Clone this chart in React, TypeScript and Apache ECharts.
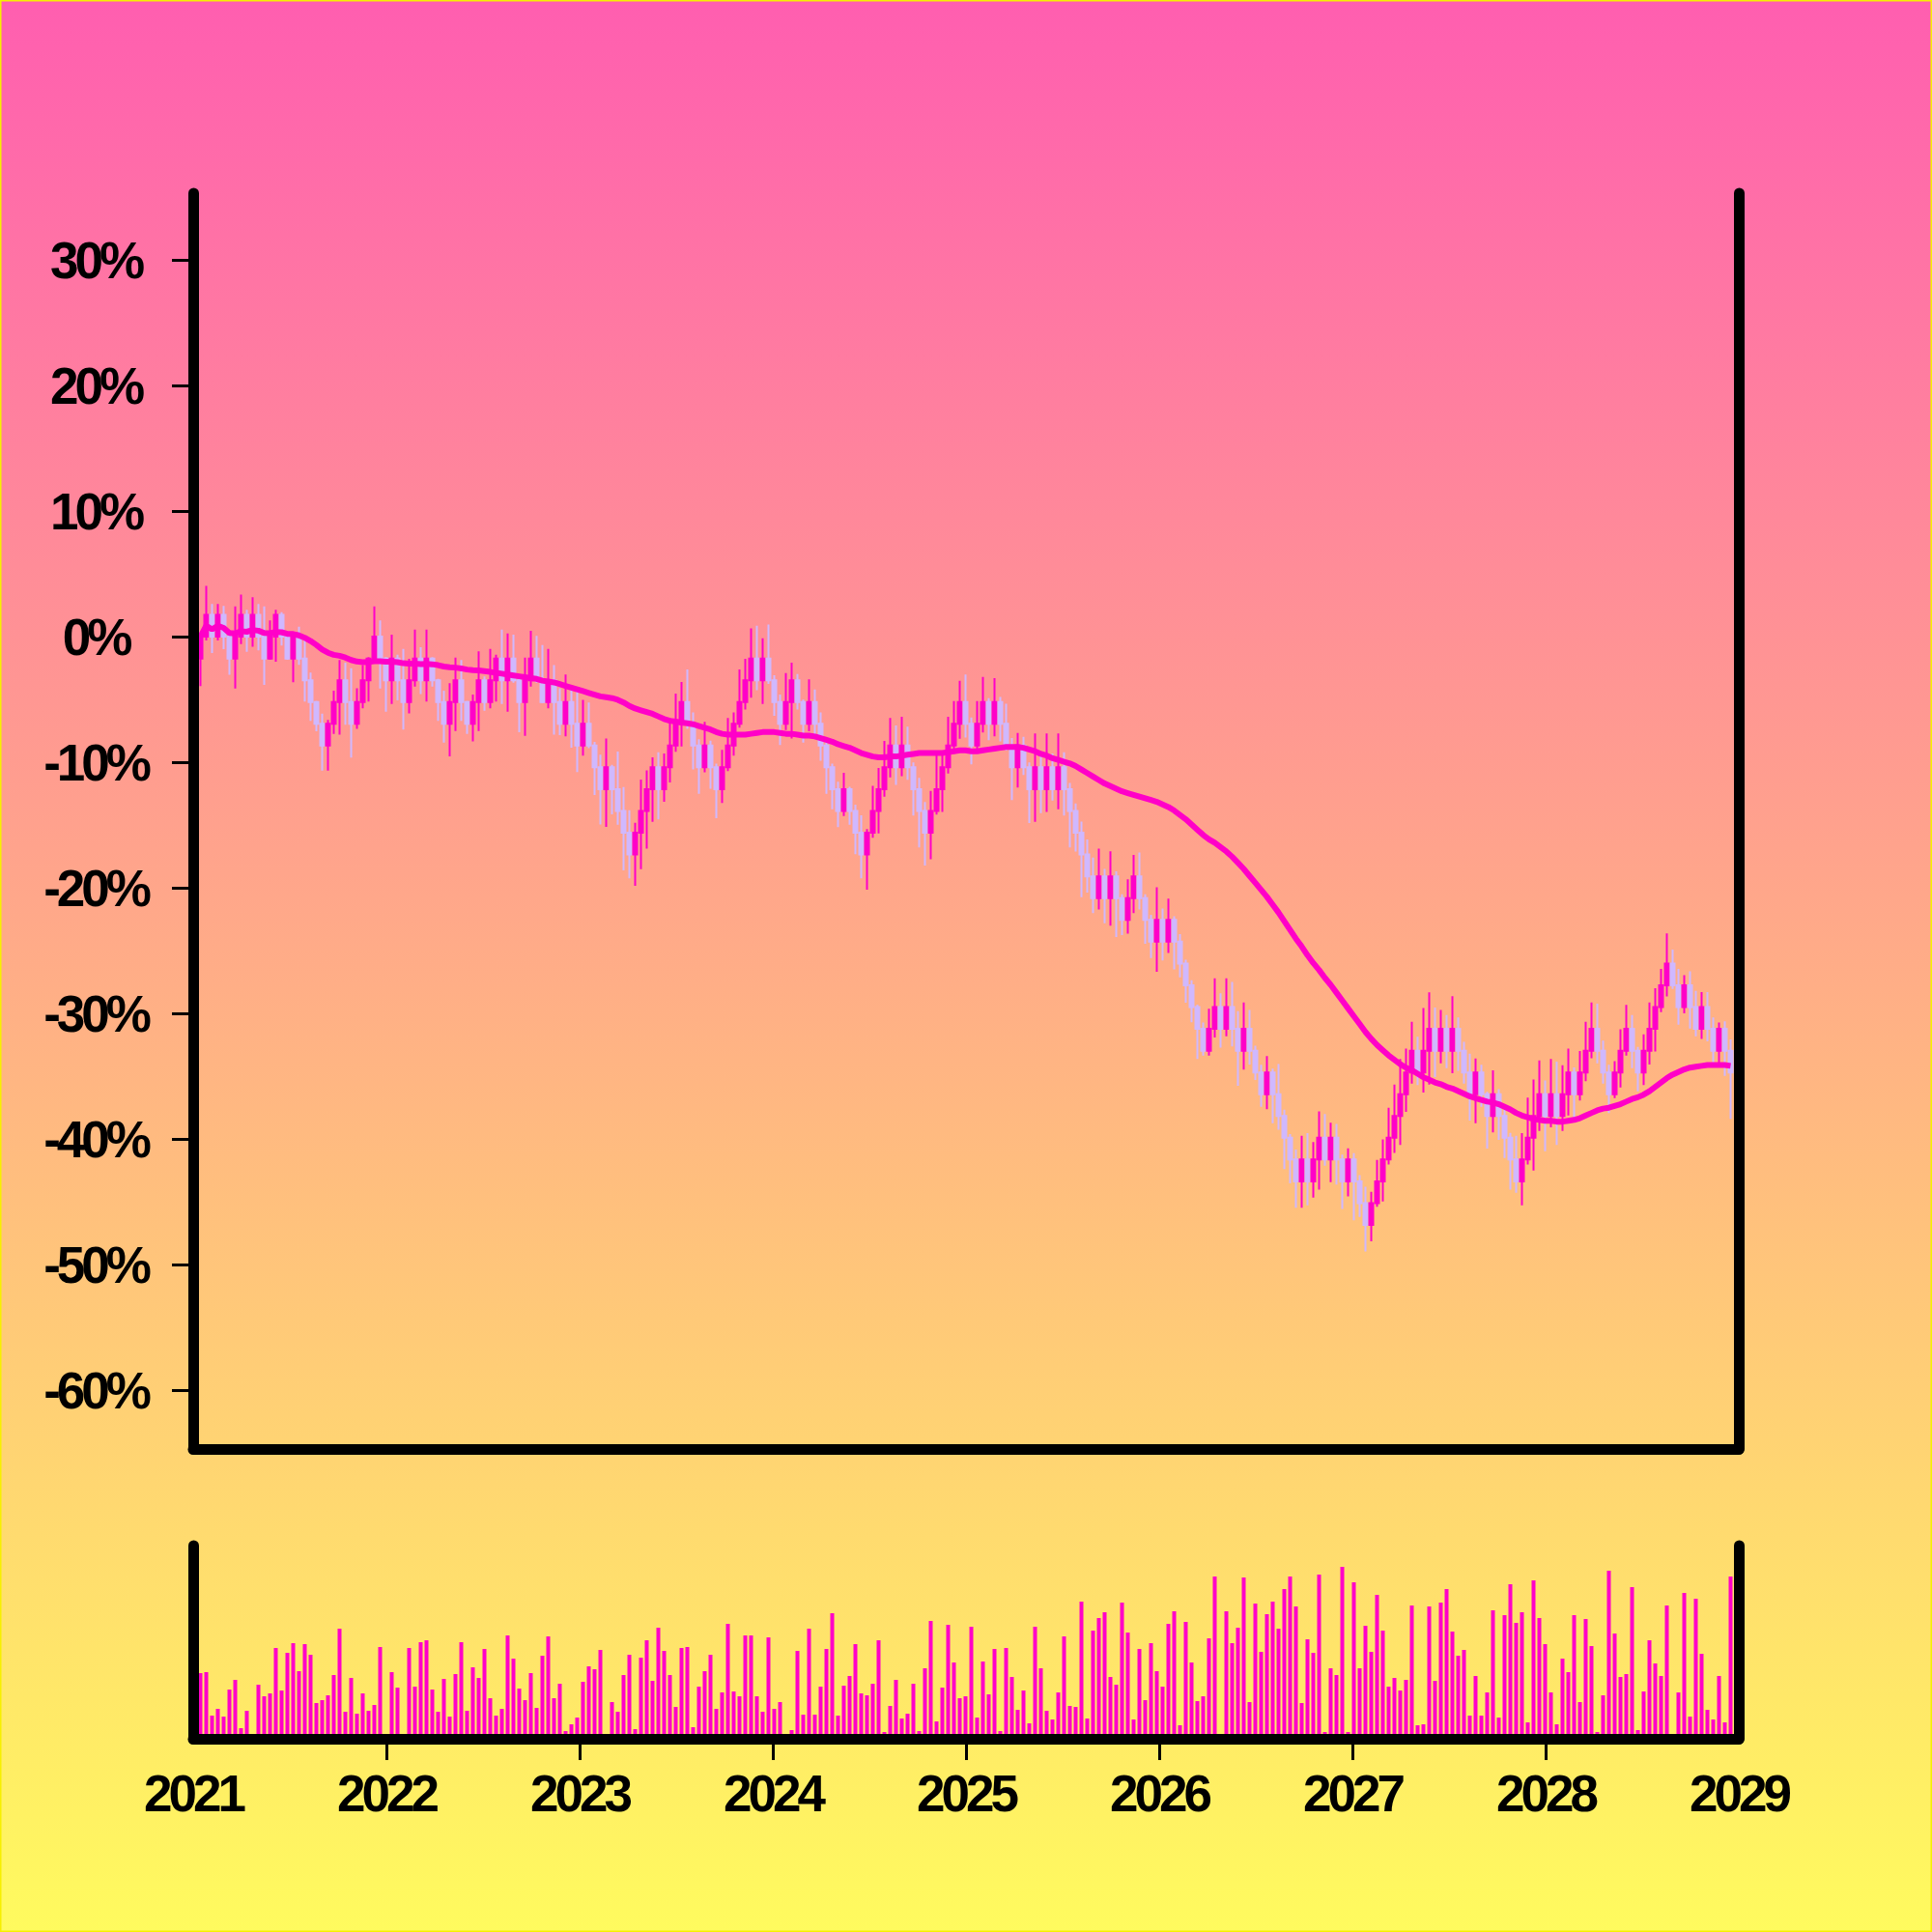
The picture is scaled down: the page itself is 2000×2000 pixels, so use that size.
import React, { useEffect, useRef } from "react";
import * as echarts from "echarts";

// ---------- data ----------
const YEAR_LABELS = [2021, 2022, 2023, 2024, 2025, 2026, 2027, 2028, 2029];
const YEAR_TICKS = [2022, 2023, 2024, 2025, 2026, 2027, 2028];
const PCT_TICKS = [-60, -50, -40, -30, -20, -10, 0, 10, 20, 30];

// candle time grid (decimal years)
const FIRST_X = 2021.0375;
const X_STEP = 0.03;

const OPEN0 = -1.74;

// closes, % change
const closes = [
  0, 1.74, 0, 1.74, 0, -1.74, 0, 1.74, 0, 1.74,
  0, -1.74, 0, 1.74, 0, -1.74, 0, -1.74, -3.47, -5.21,
  -6.94, -8.68, -6.94, -5.21, -3.47, -5.21, -6.94, -5.21, -3.47, -1.74,
  0, -1.74, -3.47, -1.74, -3.47, -5.21, -3.47, -1.74, -3.47, -1.74,
  -3.47, -5.21, -6.94, -5.21, -3.47, -5.21, -6.94, -5.21, -3.47, -5.21,
  -3.47, -1.74, -3.47, -1.74, -3.47, -5.21, -3.47, -1.74, -3.47, -5.21,
  -3.47, -5.21, -6.94, -5.21, -6.94, -8.68, -6.94, -8.68, -10.41, -12.15,
  -10.41, -12.15, -13.88, -15.62, -17.35, -15.62, -13.88, -12.15, -10.41, -12.15,
  -10.41, -8.68, -6.94, -5.21, -6.94, -8.68, -10.41, -8.68, -10.41, -12.15,
  -10.41, -8.68, -6.94, -5.21, -3.47, -1.74, -3.47, -1.74, -3.47, -5.21,
  -6.94, -5.21, -3.47, -5.21, -6.94, -5.21, -6.94, -8.68, -10.41, -12.15,
  -13.88, -12.15, -13.88, -15.62, -17.35, -15.62, -13.88, -12.15, -10.41, -8.68,
  -10.41, -8.68, -10.41, -12.15, -13.88, -15.62, -13.88, -12.15, -10.41, -8.68,
  -6.94, -5.21, -6.94, -8.68, -6.94, -5.21, -6.94, -5.21, -6.94, -8.68,
  -10.41, -8.68, -10.41, -12.15, -10.41, -12.15, -10.41, -12.15, -10.41, -12.15,
  -13.88, -15.62, -17.35, -19.09, -20.82, -19.09, -20.82, -19.09, -20.82, -22.56,
  -20.82, -19.09, -20.82, -22.56, -24.29, -22.56, -24.29, -22.56, -24.29, -26.03,
  -27.76, -29.5, -31.23, -32.97, -31.23, -29.5, -31.23, -29.5, -31.23, -32.97,
  -31.23, -32.97, -34.7, -36.44, -34.7, -36.44, -38.17, -39.91, -41.64, -43.38,
  -41.64, -43.38, -41.64, -39.91, -41.64, -39.91, -41.64, -43.38, -41.64, -43.38,
  -45.11, -46.85, -45.11, -43.38, -41.64, -39.91, -38.17, -36.44, -34.7, -32.97,
  -34.7, -32.97, -31.23, -32.97, -31.23, -32.97, -31.23, -32.97, -34.7, -36.44,
  -34.7, -36.44, -38.17, -36.44, -38.17, -39.91, -41.64, -43.38, -41.64, -39.91,
  -38.17, -36.44, -38.17, -36.44, -38.17, -36.44, -34.7, -36.44, -34.7, -32.97,
  -31.23, -32.97, -34.7, -36.44, -34.7, -32.97, -31.23, -32.97, -34.7, -32.97,
  -31.23, -29.5, -27.76, -26.03, -27.76, -29.5, -27.76, -29.5, -31.23, -29.5,
  -31.23, -32.97, -31.23, -32.97, -34.7,
];

// upper wick length above the body, %
const wickUp = [
  0.3, 2.3, 0.85, 0.85, 0.7, 0.2, 2.4, 1.6, 0.4, 1.4,
  0.85, 2.4, 1.3, 0.4, 0.2, 0.2, 0.2, 0.8, 1.8, 0.6,
  0.1, 0.8, 0.3, 0.9, 1.6, 1.4, 2.7, 1.1, 1.2, 0.1,
  2.4, 1.3, 0.1, 1.9, 0.3, 2.5, 1.7, 2.3, 0.9, 2.3,
  0.1, 0.1, 0.9, 1.5, 1.8, 1.6, 0.1, 0.6, 2.3, 0.3,
  2.5, 0.3, 2.3, 2.0, 1.9, 0.3, 1.8, 2.2, 1.8, 2.8,
  2.5, 1.2, 1.1, 2.2, 1.3, 2.6, 1.9, 1.7, 0.3, 1.0,
  2.3, 0.2, 3.0, 1.9, 1.8, 0.8, 2.5, 1.5, 0.8, 1.2,
  1.1, 2.2, 2.4, 1.6, 2.6, 0.9, 0.5, 1.9, 0.4, 0.3,
  1.4, 2.2, 0.9, 2.6, 1.7, 2.4, 2.6, 1.6, 2.7, 0.4,
  0.6, 2.3, 1.4, 0.5, 0.2, 1.8, 1.0, 0.9, 0.4, 0.3,
  0.6, 1.3, 0.2, 0.5, 1.4, 0.3, 2.0, 1.7, 2.1, 2.2,
  1.6, 2.3, 1.5, 0.4, 0.9, 0.7, 1.6, 2.7, 1.3, 2.3,
  1.8, 1.7, 2.2, 0.5, 1.8, 2.0, 0.3, 1.9, 0.4, 1.6,
  0.6, 1.0, 0.7, 0.4, 2.7, 0.9, 2.7, 1.1, 2.7, 1.2,
  0.5, 0.6, 0.9, 1.2, 1.5, 2.2, 0.6, 2.0, 0.4, 0.3,
  1.5, 1.7, 1.9, 0.3, 0.4, 2.6, 0.9, 1.7, 0.3, 0.6,
  0.3, 0.4, 0.2, 0.5, 1.6, 2.3, 1.1, 2.3, 2.0, 1.4,
  2.1, 1.5, 0.4, 0.6, 1.3, 0.3, 2.4, 0.5, 0.3, 0.8,
  1.9, 2.1, 1.4, 2.1, 1.9, 1.2, 1.1, 0.4, 0.9, 0.5,
  0.5, 1.3, 0.9, 1.7, 1.6, 2.4, 2.5, 2.8, 1.9, 2.3,
  1.1, 3.4, 2.9, 1.7, 1.5, 1.1, 2.6, 0.9, 0.7, 1.5,
  1.1, 0.6, 0.2, 1.9, 0.4, 0.5, 0.4, 1.9, 2.1, 3.2,
  2.9, 2.7, 1.1, 2.8, 2.6, 2.3, 1.9, 0.4, 1.7, 2.3,
  2.1, 2.0, 0.8, 0.6, 0.9, 1.7, 1.9, 1.1, 0.3, 1.3,
  2.1, 1.5, 1.3, 2.4, 1.1, 1.3, 0.8, 1.1, 1.3, 1.2,
  1.2, 0.9, 0.5, 0.6, 0.9,
];

// lower wick length below the body, %
const wickDown = [
  2.2, 0.3, 1.3, 0.3, 1.0, 1.3, 2.4, 0.6, 1.2, 0.8,
  1.1, 2.1, 0.1, 2.0, 0.7, 0.1, 1.9, 0.5, 1.7, 1.5,
  0.6, 2.0, 2.0, 0.8, 2.6, 1.8, 2.7, 0.4, 0.5, 1.7,
  0.2, 2.4, 2.5, 1.9, 1.6, 2.2, 0.9, 0.5, 1.1, 1.7,
  0.5, 1.5, 1.5, 2.6, 2.3, 1.5, 0.8, 1.4, 2.3, 0.7,
  0.5, 1.7, 1.9, 2.5, 0.2, 2.4, 2.7, 0.5, 0.2, 0.1,
  0.5, 2.6, 0.9, 1.0, 1.9, 2.1, 0.8, 0.2, 2.2, 2.8,
  3.0, 2.0, 1.1, 3.0, 1.9, 2.5, 2.9, 3.0, 2.6, 2.4,
  1.0, 1.2, 0.5, 1.8, 0.4, 1.9, 2.1, 0.4, 1.7, 2.3,
  1.1, 0.3, 0.8, 0.3, 0.6, 1.4, 0.8, 1.9, 0.3, 1.1,
  1.7, 0.5, 2.9, 0.6, 1.5, 0.6, 1.2, 1.2, 2.1, 1.6,
  1.3, 0.4, 1.1, 1.7, 1.9, 2.8, 0.4, 1.8, 0.6, 0.8,
  1.4, 0.7, 1.0, 2.1, 2.9, 2.6, 2.1, 0.3, 1.8, 0.5,
  0.6, 1.2, 1.1, 1.5, 0.6, 0.7, 1.3, 1.0, 1.4, 0.4,
  2.6, 1.6, 0.6, 2.7, 2.6, 1.9, 1.8, 0.9, 1.6, 2.1,
  2.9, 1.5, 3.4, 1.3, 1.2, 0.9, 2.0, 2.2, 3.1, 1.2,
  1.1, 1.2, 0.9, 1.9, 1.3, 2.4, 1.5, 0.9, 2.2, 1.1,
  1.4, 1.2, 2.4, 0.4, 0.4, 0.7, 1.5, 0.6, 1.4, 2.8,
  1.5, 1.1, 0.6, 1.0, 1.2, 2.3, 1.1, 2.5, 1.9, 2.1,
  2.1, 1.9, 1.3, 2.4, 0.5, 1.8, 2.0, 2.2, 1.2, 3.1,
  1.1, 2.1, 1.3, 0.3, 1.6, 0.4, 1.2, 2.3, 1.4, 0.9,
  1.0, 1.6, 2.7, 2.1, 1.0, 1.4, 1.8, 1.6, 0.9, 2.1,
  2.3, 1.0, 2.6, 1.3, 1.9, 1.6, 2.4, 0.9, 1.9, 0.4,
  2.6, 1.2, 2.8, 0.9, 2.3, 1.2, 1.7, 2.2, 0.5, 0.7,
  0.6, 1.0, 0.9, 1.5, 0.3, 1.2, 0.4, 1.4, 1.5, 1.0,
  1.1, 1.8, 0.4, 0.9, 0.3, 1.4, 0.5, 1.7, 0.6, 0.8,
  1.0, 1.1, 1.0, 2.0, 3.7,
];

// volume per candle
const volumes = [
  0.68, 0.69, 0.24, 0.31, 0.23, 0.51, 0.61, 0.11, 0.29, 0,
  0.56, 0.44, 0.47, 0.94, 0.5, 0.89, 0.99, 0.7, 0.98, 0.87,
  0.37, 0.4, 0.45, 0.66, 1.14, 0.28, 0.63, 0.26, 0.47, 0.29,
  0.35, 0.95, 0, 0.69, 0.53, 0, 0.94, 0.54, 1.0, 1.02,
  0.51, 0.28, 0.62, 0.23, 0.67, 1.0, 0.29, 0.74, 0.63, 0.93,
  0.42, 0.24, 0.31, 1.07, 0.83, 0.52, 0.4, 0.68, 0.32, 0.86,
  1.06, 0.42, 0.57, 0.08, 0.15, 0.22, 0.59, 0.75, 0.72, 0.92,
  0, 0.38, 0.28, 0.66, 0.87, 0.1, 0.84, 1.02, 0.6, 1.15,
  0.91, 0.66, 0.33, 0.94, 0.95, 0.12, 0.54, 0.7, 0.87, 0.31,
  0.48, 1.19, 0.49, 0.44, 1.07, 1.07, 0.44, 0.28, 1.05, 0.31,
  0.38, 0, 0.09, 0.91, 0.25, 1.14, 0.25, 0.54, 0.93, 1.3,
  0.24, 0.55, 0.65, 0.98, 0.47, 0.45, 0.57, 1.02, 0.07, 0.34,
  0.61, 0.21, 0.26, 0.57, 0.08, 0.73, 1.22, 0.18, 0.53, 1.18,
  0.79, 0.42, 0.44, 1.16, 0.22, 0.8, 0.46, 0.93, 0.08, 0.94,
  0.64, 0.3, 0.5, 0.16, 1.16, 0.73, 0.29, 0.2, 0.48, 1.06,
  0.34, 0.33, 1.42, 0.21, 1.12, 1.25, 1.31, 0.64, 0.56, 1.41,
  1.1, 0.2, 0.93, 0.4, 0.99, 0.7, 0.54, 1.19, 1.32, 0.14,
  1.21, 0.79, 0.39, 0.44, 1.04, 1.68, 0, 1.32, 0.99, 1.15,
  1.67, 0.38, 1.4, 0.9, 1.29, 1.42, 1.14, 1.55, 1.68, 1.37,
  0.37, 1.03, 0.89, 1.7, 0.07, 0.73, 0.66, 1.78, 0.07, 1.62,
  0.73, 1.17, 0.9, 1.49, 1.12, 0.54, 0.63, 0.5, 0.61, 1.38,
  0.14, 0.15, 1.37, 0.6, 1.41, 1.55, 1.11, 0.86, 0.92, 0.24,
  0.65, 0.24, 0.48, 1.33, 0.22, 1.28, 1.6, 1.2, 1.31, 0.17,
  1.64, 1.25, 0.98, 0.48, 0.15, 0.83, 0.69, 1.28, 0.38, 1.24,
  0.96, 0.07, 0.45, 1.74, 1.09, 0.64, 0.67, 1.57, 0.09, 0.49,
  1.02, 0.78, 0.65, 1.38, 0, 0.48, 1.51, 0.23, 1.45, 0.88,
  0.3, 0.2, 0.65, 0.17, 1.68,
];

const MA_WINDOW = 50;

// ---------- styles ----------
const MAGENTA = "#FF00C8";
const LAVENDER = "#D0B8FF";
const BG_TOP = "#FF5EB0";
const BG_BOTTOM = "#FFFB5E";
const FONT = "'Liberation Sans', Arial, Helvetica, sans-serif";

const App: React.FC = () => {
  const ref = useRef<HTMLDivElement>(null);

  useEffect(() => {
    if (!ref.current) return;
    const chart = echarts.init(ref.current, null, { renderer: "svg" });

    const xs = closes.map((_, i) => +(FIRST_X + i * X_STEP).toFixed(5));
    const candleRows = closes.map((c, i) => {
      const o = i === 0 ? OPEN0 : closes[i - 1];
      const hi = Math.max(o, c) + wickUp[i];
      const lo = Math.min(o, c) - wickDown[i];
      return [xs[i], o, c, lo, hi];
    });
    const maRows = closes.map((_, i) => {
      const win = closes.slice(Math.max(0, i - MA_WINDOW + 1), i + 1);
      return [xs[i], win.reduce((a, b) => a + b, 0) / win.length];
    });
    const volRows = volumes.map((v, i) => [xs[i], v]);

    const axisLine = {
      show: true,
      onZero: false,
      lineStyle: { color: "#000", width: 11, cap: "round" },
    };
    const labelText = {
      color: "#000",
      fontFamily: FONT,
      fontWeight: "bold",
      fontSize: 53,
    };
    const tick = { show: true, length: 22, lineStyle: { color: "#000", width: 3 } };
    const hidden = {
      axisTick: { show: false },
      axisLabel: { show: false },
      splitLine: { show: false },
    };

    chart.setOption({
      animation: false,
      graphic: [
        {
          type: "rect",
          z: -100,
          silent: true,
          shape: { x: 0, y: 0, width: 2000, height: 2000 },
          style: {
            fill: new echarts.graphic.LinearGradient(0, 0, 0, 1, [
              { offset: 0, color: BG_TOP },
              { offset: 1, color: BG_BOTTOM },
            ]),
          },
        },
        {
          type: "rect",
          z: 100,
          silent: true,
          shape: { x: 0.5, y: 0.5, width: 1999, height: 1999 },
          style: { fill: "none", stroke: "#F7F000", lineWidth: 2 },
        },
      ],
      grid: [
        { left: 200, top: 200, width: 1600, height: 1300 },
        { left: 200, top: 1600, width: 1600, height: 200 },
      ],
      xAxis: [
        {
          type: "value",
          gridIndex: 0,
          min: 2021,
          max: 2029,
          z: 10,
          axisLine,
          ...hidden,
        },
        {
          type: "value",
          gridIndex: 1,
          min: 2021,
          max: 2029,
          z: 10,
          axisLine,
          axisTick: { ...tick, customValues: YEAR_TICKS },
          axisLabel: {
            ...labelText,
            customValues: YEAR_LABELS,
            margin: 30,
            formatter: (v: number) => String(Math.round(v)),
          },
          splitLine: { show: false },
        },
      ],
      yAxis: [
        {
          type: "value",
          gridIndex: 0,
          min: -64.69,
          max: 35.31,
          z: 10,
          axisLine,
          axisTick: { ...tick, customValues: PCT_TICKS },
          axisLabel: {
            ...labelText,
            customValues: PCT_TICKS,
            align: "center",
            margin: 101,
            formatter: (v: number) => `${Math.round(v)}%`,
          },
          splitLine: { show: false },
        },
        {
          type: "value",
          gridIndex: 0,
          position: "right",
          min: -64.69,
          max: 35.31,
          z: 10,
          axisLine,
          ...hidden,
        },
        {
          type: "value",
          gridIndex: 1,
          min: 0,
          max: 2,
          z: 10,
          axisLine,
          ...hidden,
        },
        {
          type: "value",
          gridIndex: 1,
          position: "right",
          min: 0,
          max: 2,
          z: 10,
          axisLine,
          ...hidden,
        },
      ],
      series: [
        {
          type: "candlestick",
          xAxisIndex: 0,
          yAxisIndex: 0,
          data: candleRows,
          encode: { x: 0, y: [1, 2, 3, 4] },
          barWidth: 4.6,
          z: 2,
          itemStyle: {
            color: MAGENTA,
            color0: LAVENDER,
            borderColor: MAGENTA,
            borderColor0: LAVENDER,
            borderWidth: 2,
          },
        },
        {
          type: "line",
          xAxisIndex: 0,
          yAxisIndex: 0,
          data: maRows,
          symbol: "none",
          showSymbol: false,
          z: 3,
          silent: true,
          lineStyle: { color: MAGENTA, width: 6 },
        },
        {
          type: "bar",
          xAxisIndex: 1,
          yAxisIndex: 2,
          data: volRows,
          barWidth: 4,
          z: 2,
          itemStyle: { color: MAGENTA },
        },
      ],
    });

    return () => chart.dispose();
  }, []);

  return (
    <div>
      <style>{`#chart-root text { letter-spacing: -4px; }`}</style>
      <div
        id="chart-root"
        ref={ref}
        style={{ position: "absolute", left: 0, top: 0, width: 2000, height: 2000 }}
      />
    </div>
  );
};

export default App;
